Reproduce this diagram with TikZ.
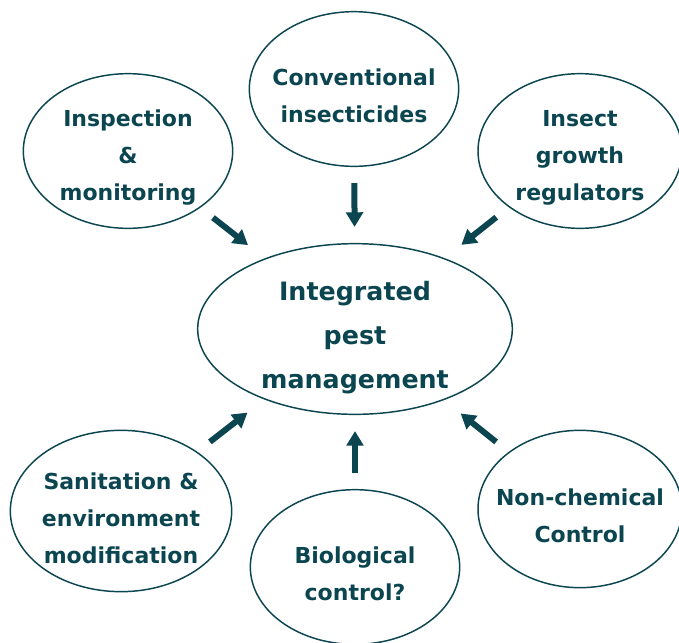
\documentclass[tikz,border=0pt]{standalone}
\usepackage{fontspec}
\setmainfont{DejaVu Sans}
\usepackage{tikz}
\usetikzlibrary{shapes,arrows.meta,positioning}
\usepackage{xcolor}
\definecolor{ipmteal}{HTML}{0B4550}
\newcommand{\topgap}{\rule{0pt}{23pt}}
\newcommand{\hubgap}{\rule{0pt}{28pt}}

\begin{document}
\begin{tikzpicture}[
    x=0.75pt, y=-0.75pt,
    bubble/.style={ellipse, draw=ipmteal, line width=1.1pt, inner sep=-30pt,
        minimum width=157pt, minimum height=116pt, align=center,
        text=ipmteal, font=\fontsize{16.5}{27.75}\selectfont\bfseries},
    hub/.style={bubble, minimum width=236pt, minimum height=128pt,
        font=\fontsize{19}{33}\selectfont\bfseries},
    push/.style={ipmteal, line width=4.5pt,
        -{Triangle[length=11pt,width=12.5pt]}, shorten <=12pt, shorten >=12pt}
]
\useasboundingbox (0,0) rectangle (679,643);

% Centre
\node[hub] (ipm) at (355,329) {\hubgap Integrated\\pest\\management};

% Surrounding methods
\node[bubble] (insp) at (128,151) {\topgap Inspection\\\&\\monitoring};
\node[bubble] (conv) at (354,89) {\topgap Conventional\\insecticides};
\node[bubble, minimum width=153pt] (igr) at (580,151) {\topgap Insect\\growth\\regulators};
\node[bubble, minimum width=166pt, minimum height=121pt] (sani) at (121,511) {\topgap Sanitation \&\\environment\\modification};
\node[bubble] (bio) at (355,567) {\topgap Biological\\control?};
\node[bubble, minimum width=153pt, minimum height=118pt] (nonchem) at (580,509) {\topgap Non-chemical\\Control};

% Arrows into the centre
\draw[push, shorten >=16pt] (insp) -- (ipm);
\draw[push] (conv) -- (ipm);
\draw[push, shorten >=16pt] (igr) -- (ipm);
\draw[push, shorten >=16pt] (sani) -- (ipm);
\draw[push] (bio) -- (ipm);
\draw[push, shorten >=16pt] (nonchem) -- (ipm);

\end{tikzpicture}
\end{document}
